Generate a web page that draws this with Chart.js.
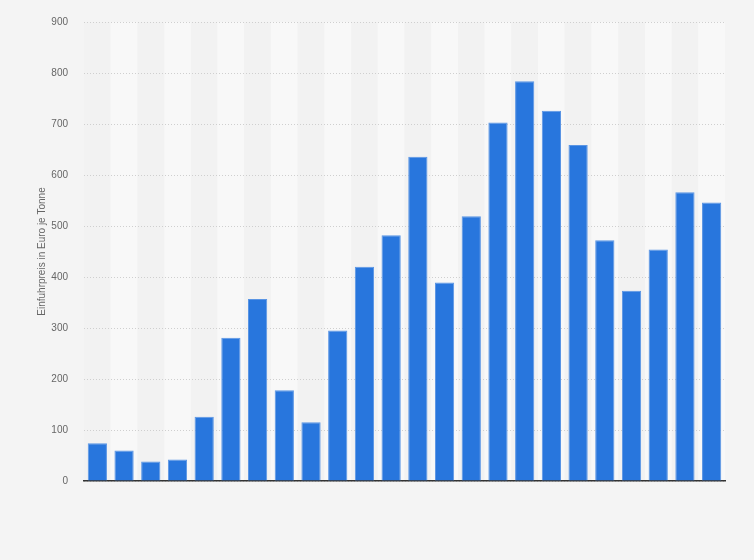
<!DOCTYPE html>
<html>
<head>
<meta charset="utf-8">
<script src="https://cdn.jsdelivr.net/npm/chart.js@4/dist/chart.umd.min.js"></script>
<style>
  html, body { margin: 0; padding: 0; background: #f4f4f4; }
  #wrap { width: 754px; height: 560px; }
</style>
</head>
<body>
<div id="wrap"><canvas id="chart"></canvas></div>
<script>
const categories = ["1", "2", "3", "4", "5", "6", "7", "8", "9", "10", "11", "12",
    "13", "14", "15", "16", "17", "18", "19", "20", "21", "22", "23", "24"]
const prices = [74, 60, 38, 42, 126, 281, 357, 178, 115, 295, 420, 482,
    636, 389, 519, 703, 784, 726, 659, 472, 373, 454, 566, 546]
const yTicks = [0, 100, 200, 300, 400, 500, 600, 700, 800, 900]

// alternating column bands behind the grid and bars
const bands = {
    id: "bands",
    beforeDraw(chart) {
        const {ctx, chartArea, scales} = chart
        const x = scales.x
        const half = (x.getPixelForValue(1) - x.getPixelForValue(0)) / 2
        ctx.save()
        for (let i = 0; i < categories.length; i++) {
            ctx.fillStyle = i % 2 ? "#f8f8f8" : "#f2f2f2"
            const c = x.getPixelForValue(i)
            ctx.fillRect(c - half, chartArea.top, half * 2, chartArea.bottom - chartArea.top)
        }
        ctx.restore()
    }
}

new Chart(document.getElementById("chart"), {
    type: "bar",
    data: {
        labels: categories,
        datasets: [{
            data: prices,
            backgroundColor: "#2876dd",
            borderColor: "#5a95e4",
            borderWidth: {top: 1, left: 1, right: 1, bottom: 0},
            barPercentage: 0.72,
            categoryPercentage: 1
        }]
    },
    options: {
        responsive: true,
        maintainAspectRatio: false,
        animation: false,
        layout: {padding: {left: 0, right: 29, top: 20, bottom: 79}},
        plugins: {legend: {display: false}, tooltip: {enabled: false}},
        scales: {
            x: {
                ticks: {display: false},
                grid: {display: false, drawTicks: false},
                border: {display: true, color: "#333333", width: 1.5}
            },
            y: {
                min: 0,
                max: 900,
                afterFit(scale) { scale.width = 84 },
                afterBuildTicks(scale) { scale.ticks = yTicks.map(v => ({value: v})) },
                ticks: {
                    padding: 16,
                    color: "#666666",
                    font: {family: "Liberation Sans, Arial", size: 10}
                },
                grid: {color: "#cfcfcf", drawTicks: false},
                border: {display: false, dash: [1, 2]},
                title: {
                    display: true,
                    text: "Einfuhrpreis in Euro je Tonne",
                    color: "#666666",
                    font: {family: "Liberation Sans, Arial", size: 10},
                    padding: {top: 36, bottom: 0}
                }
            }
        }
    },
    plugins: [bands]
})
</script>
</body>
</html>
